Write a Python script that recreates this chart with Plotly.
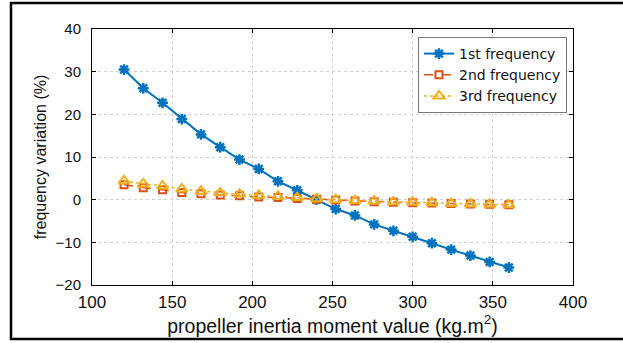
import plotly.graph_objects as go

inertia = [120, 132, 144, 156, 168, 180, 192, 204, 216, 228, 240,
           252, 264, 276, 288, 300, 312, 324, 336, 348, 360]
freq1 = [30.5, 26.1, 22.7, 18.9, 15.3, 12.3, 9.4, 7.2, 4.3, 2.2, 0.0,
         -2.2, -3.7, -5.8, -7.3, -8.7, -10.2, -11.7, -13.1, -14.6, -15.9]
freq2 = [3.5, 2.8, 2.3, 1.7, 1.4, 1.1, 0.9, 0.6, 0.5, 0.3, 0.1,
         -0.1, -0.3, -0.5, -0.6, -0.7, -0.8, -0.9, -1.0, -1.1, -1.2]
freq3 = [4.4, 3.7, 3.2, 2.5, 2.0, 1.6, 1.3, 1.0, 0.8, 0.5, 0.2,
         0.0, -0.2, -0.3, -0.5, -0.6, -0.7, -0.9, -1.0, -1.1, -1.2]
x_ticks = [100, 150, 200, 250, 300, 350, 400]
y_ticks = [-20, -10, 0, 10, 20, 30, 40]

FONT = "Liberation Sans, Arial, Helvetica, sans-serif"
BLUE, ORANGE, YELLOW = "#0072BD", "#D95319", "#EDB120"

fig = go.Figure()
fig.add_trace(go.Scatter(
    x=inertia, y=freq1, name="1st frequency", mode="lines+markers",
    line=dict(color=BLUE, width=2),
    marker=dict(symbol="asterisk-open", size=9, color=BLUE,
                line=dict(color=BLUE, width=2.5))))
fig.add_trace(go.Scatter(
    x=inertia, y=freq2, name="2nd frequency", mode="lines+markers",
    line=dict(color=ORANGE, width=1.5, dash="dash"),
    marker=dict(symbol="square-open", size=7, color=ORANGE,
                line=dict(color=ORANGE, width=2))))
fig.add_trace(go.Scatter(
    x=inertia, y=freq3, name="3rd frequency", mode="lines+markers",
    line=dict(color=YELLOW, width=1.5, dash="dot"),
    marker=dict(symbol="triangle-up-open", size=10, color=YELLOW,
                line=dict(color=YELLOW, width=2))))

W, H = 623, 343
L, R, T, B = 92, 50, 29, 58
pw, ph = W - L - R, H - T - B


def px(p):
    return (p - L) / pw


def py(q):
    return (H - B - q) / ph


axis_common = dict(
    showline=True, linecolor="black", linewidth=1, mirror="ticks",
    ticks="inside", ticklen=4, tickcolor="black",
    showgrid=True, gridcolor="#d0d0d0", griddash="3px,3px", gridwidth=1,
    zeroline=False,
)

fig.update_layout(
    width=W, height=H,
    margin=dict(l=L, r=R, t=T, b=B, pad=0),
    paper_bgcolor="white", plot_bgcolor="white",
    font=dict(family=FONT, color="#111"),
    xaxis=dict(range=[100, 400], tickvals=x_ticks,
               tickfont=dict(family=FONT, size=17, color="#111"),
               ticklabelstandoff=2,
               title=dict(text="propeller inertia moment value (kg.m<sup>2</sup>)",
                          font=dict(family=FONT, size=19.5, color="#111"),
                          standoff=1),
               **axis_common),
    yaxis=dict(range=[-20, 40], tickvals=y_ticks,
               tickfont=dict(family=FONT, size=15, color="#111"),
               ticklabelstandoff=7,
               title=dict(text="frequency variation (%)",
                          font=dict(family=FONT, size=16, color="#111"),
                          standoff=4),
               **axis_common),
    legend=dict(x=px(418), y=py(37), xanchor="left", yanchor="top",
                bgcolor="white", bordercolor="#777", borderwidth=1,
                font=dict(family="DejaVu Sans, sans-serif", size=14, color="#111"),
                tracegroupgap=0),
    showlegend=True,
    shapes=[dict(type="rect", xref="paper", yref="paper",
                 x0=px(11), x1=px(640), y0=py(339), y1=py(3),
                 line=dict(color="black", width=2.5), layer="above")],
)

fig.write_html("out.html")
